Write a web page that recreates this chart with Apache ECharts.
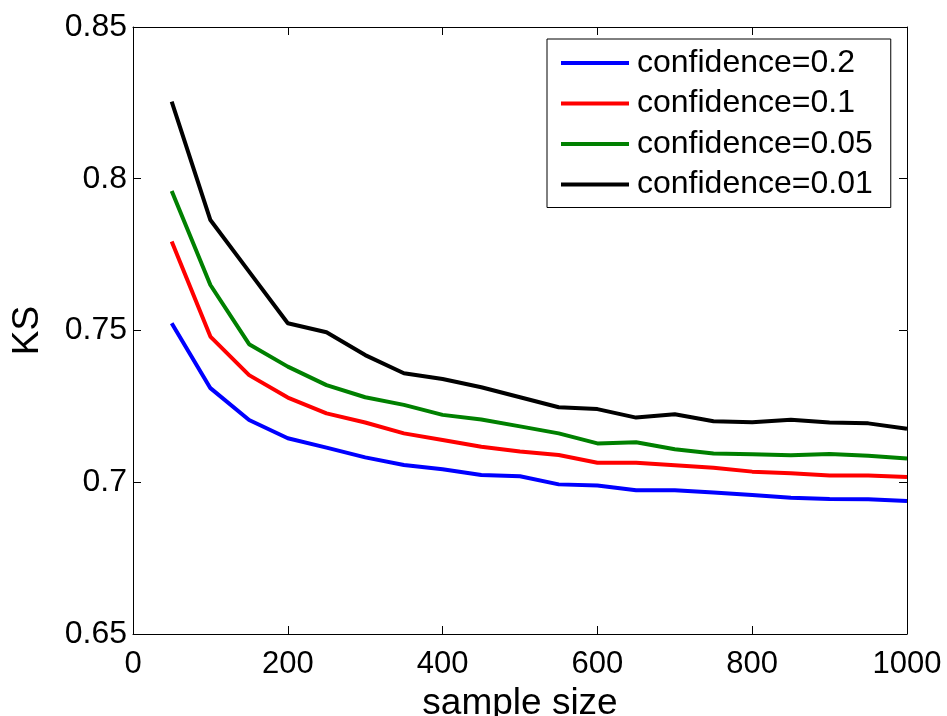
<!DOCTYPE html>
<html>
<head>
<meta charset="utf-8">
<script src="https://cdn.jsdelivr.net/npm/echarts@6/dist/echarts.min.js"></script>
<style>
html,body{margin:0;padding:0;background:#fff;}
#c{width:947px;height:716px;}
</style>
</head>
<body>
<div id="c"></div>
<script>
const sampleSizes = [50,100,150,200,250,300,350,400,450,500,550,600,650,700,750,800,850,900,950,1000];
const conf02  = [0.7524,0.7310,0.7205,0.7145,0.7114,0.7082,0.7057,0.7043,0.7024,0.7020,0.6993,0.6989,0.6974,0.6974,0.6966,0.6958,0.6949,0.6945,0.6944,0.6938];
const conf01  = [0.7793,0.7480,0.7353,0.7279,0.7227,0.7197,0.7161,0.7139,0.7117,0.7101,0.7090,0.7064,0.7064,0.7056,0.7048,0.7035,0.7030,0.7022,0.7022,0.7017];
const conf005 = [0.7960,0.7650,0.7455,0.7381,0.7320,0.7280,0.7255,0.7222,0.7207,0.7184,0.7161,0.7128,0.7132,0.7109,0.7095,0.7092,0.7089,0.7093,0.7087,0.7078];
const conf001 = [0.8254,0.7864,0.7694,0.7524,0.7494,0.7419,0.7359,0.7340,0.7313,0.7280,0.7247,0.7241,0.7213,0.7224,0.7201,0.7198,0.7206,0.7197,0.7194,0.7176];
const seriesNames = ['confidence=0.2','confidence=0.1','confidence=0.05','confidence=0.01'];
const seriesColors = ['#0000ff','#ff0000','#008000','#000000'];
const xTicks = {min:0, max:1000, interval:200};
const yTicks = {min:0.65, max:0.85, interval:0.05};

const FONT = '"Liberation Sans", Arial, sans-serif';
const allData = [conf02, conf01, conf005, conf001];
const chart = echarts.init(document.getElementById('c'), null, {renderer:'canvas'});

const axisBase = {
  axisLine:{show:true, onZero:false, lineStyle:{color:'#000', width:1}},
  axisTick:{show:true, inside:true, length:8, lineStyle:{color:'#000', width:1}},
  splitLine:{show:false}
};

chart.setOption({
  animation:false,
  backgroundColor:'#fff',
  grid:{left:133, top:27, width:774, height:607, containLabel:false, outerBoundsMode:'none'},
  legend:{
    left:547, top:39,
    orient:'vertical',
    icon:'rect',
    itemWidth:68, itemHeight:4,
    itemGap:8.5,
    padding:[8,18,7,14],
    backgroundColor:'#fff',
    borderColor:'#000', borderWidth:1, borderRadius:0,
    textStyle:{fontFamily:FONT, fontSize:32, color:'#000', lineHeight:32, padding:[0,0,0,3]},
    data:seriesNames
  },
  xAxis:[
    Object.assign({}, axisBase, {
      type:'value', position:'bottom', min:xTicks.min, max:xTicks.max, interval:xTicks.interval,
      name:'sample size', nameLocation:'middle', nameGap:45,
      nameTextStyle:{fontFamily:FONT, fontSize:37, color:'#000'},
      axisLabel:{fontFamily:FONT, fontSize:31, color:'#000', margin:15,
        formatter:function(v){return String(v);}}
    }),
    Object.assign({}, axisBase, {
      type:'value', position:'top', min:xTicks.min, max:xTicks.max, interval:xTicks.interval,
      axisLabel:{show:false}
    })
  ],
  yAxis:[
    Object.assign({}, axisBase, {
      type:'value', position:'left', min:yTicks.min, max:yTicks.max, interval:yTicks.interval,
      name:'KS', nameLocation:'middle', nameGap:87, nameRotate:90,
      nameTextStyle:{fontFamily:FONT, fontSize:37, color:'#000'},
      axisLabel:{fontFamily:FONT, fontSize:32, color:'#000', margin:6,
        formatter:function(v){return String(parseFloat(v.toFixed(2)));}}
    }),
    Object.assign({}, axisBase, {
      type:'value', position:'right', min:yTicks.min, max:yTicks.max, interval:yTicks.interval,
      axisLabel:{show:false}
    })
  ],
  series: seriesNames.map(function(name, i){
    return {
      name:name, type:'line', xAxisIndex:0, yAxisIndex:0,
      symbol:'none', showSymbol:false,
      color:seriesColors[i],
      lineStyle:{color:seriesColors[i], width:4},
      itemStyle:{color:seriesColors[i]},
      data: sampleSizes.map(function(x, j){ return [x, allData[i][j]]; })
    };
  })
});
</script>
</body>
</html>
